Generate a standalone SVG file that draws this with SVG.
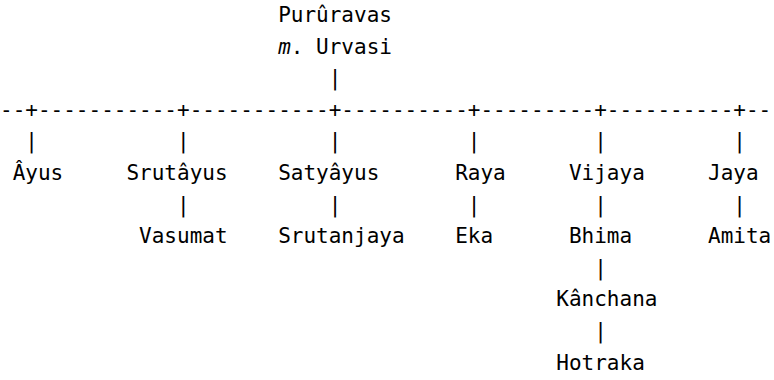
<svg xmlns="http://www.w3.org/2000/svg" width="774" height="380" viewBox="0 0 774 380">
<style>
text{font-family:"DejaVu Sans Mono",monospace;font-size:21px;fill:#000;}
.i{font-style:italic;}
</style>
<rect width="774" height="380" fill="#fff"/>
<g id="connectors">
<text x="328.72" y="85.2">|</text>
<text x="0" y="116.8">--+-----------+-----------+----------+---------+----------+--</text>
<text x="25.29" y="148.4">|</text>
<text x="177" y="148.4">|</text>
<text x="328.72" y="148.4">|</text>
<text x="467.79" y="148.4">|</text>
<text x="594.22" y="148.4">|</text>
<text x="733.29" y="148.4">|</text>
<text x="177" y="211.6">|</text>
<text x="328.72" y="211.6">|</text>
<text x="467.79" y="211.6">|</text>
<text x="594.22" y="211.6">|</text>
<text x="733.29" y="211.6">|</text>
<text x="594.22" y="274.8">|</text>
<text x="594.22" y="338">|</text>
</g>
<g id="pururavas"><text x="278.15" y="22">Purûravas</text><text x="278.15" y="53.6"><tspan class="i">m</tspan>. Urvasi</text></g>
<g id="ayus"><text x="12.64" y="180">Âyus</text></g>
<g id="srutayus"><text x="126.43" y="180">Srutâyus</text></g>
<g id="satyayus"><text x="278.15" y="180">Satyâyus</text></g>
<g id="raya"><text x="455.15" y="180">Raya</text></g>
<g id="vijaya"><text x="568.93" y="180">Vijaya</text></g>
<g id="jaya"><text x="708" y="180">Jaya</text></g>
<g id="vasumat"><text x="139.07" y="243.2">Vasumat</text></g>
<g id="srutanjaya"><text x="278.15" y="243.2">Srutanjaya</text></g>
<g id="eka"><text x="455.15" y="243.2">Eka</text></g>
<g id="bhima"><text x="568.93" y="243.2">Bhima</text></g>
<g id="amita"><text x="708" y="243.2">Amita</text></g>
<g id="kanchana"><text x="556.29" y="306.4">Kânchana</text></g>
<g id="hotraka"><text x="556.29" y="369.6">Hotraka</text></g>
</svg>
